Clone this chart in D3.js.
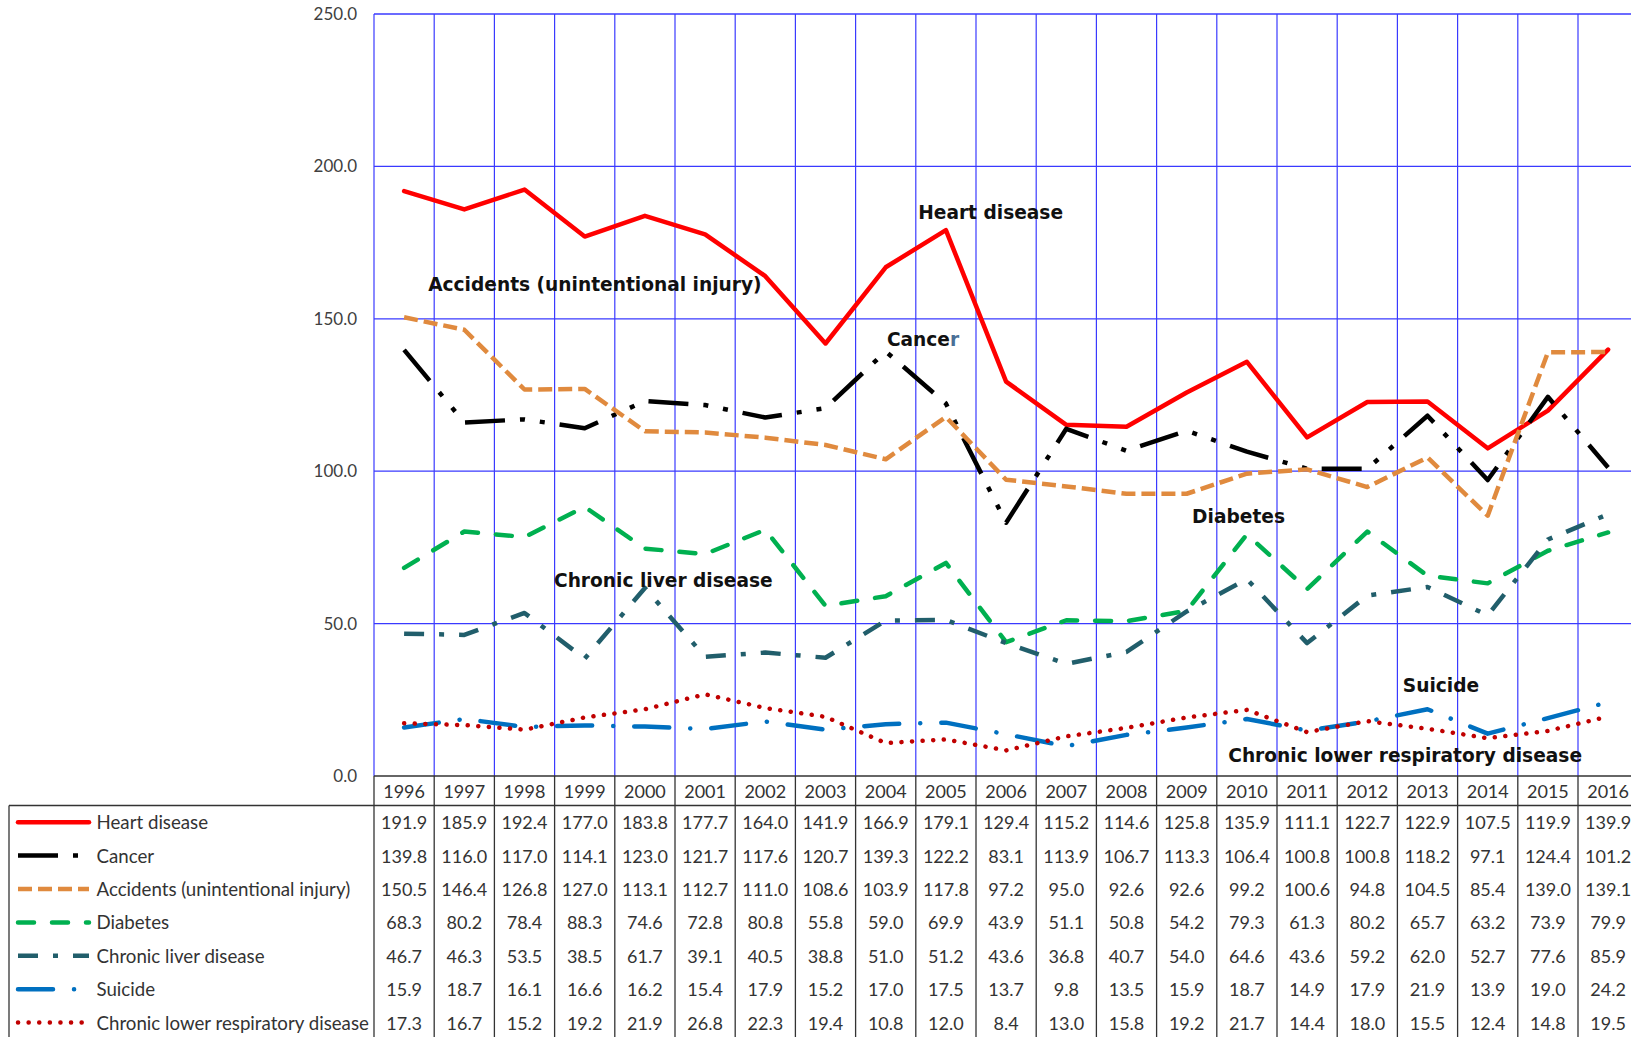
<!DOCTYPE html>
<html>
<head>
<meta charset="utf-8">
<script src="https://cdn.jsdelivr.net/npm/d3@7"></script>
<style>
body { margin: 0; background: #ffffff; }
svg { display: block; }
</style>
</head>
<body>
<div class="svg-container"></div>
<script>
// categories
let years = ["1996", "1997", "1998", "1999", "2000", "2001", "2002", "2003", "2004", "2005", "2006",
             "2007", "2008", "2009", "2010", "2011", "2012", "2013", "2014", "2015", "2016"];

// series values
let heartDisease = [191.9, 185.9, 192.4, 177.0, 183.8, 177.7, 164.0, 141.9, 166.9, 179.1, 129.4, 115.2, 114.6, 125.8, 135.9, 111.1, 122.7, 122.9, 107.5, 119.9, 139.9];
let cancer       = [139.8, 116.0, 117.0, 114.1, 123.0, 121.7, 117.6, 120.7, 139.3, 122.2, 83.1, 113.9, 106.7, 113.3, 106.4, 100.8, 100.8, 118.2, 97.1, 124.4, 101.2];
let accidents    = [150.5, 146.4, 126.8, 127.0, 113.1, 112.7, 111.0, 108.6, 103.9, 117.8, 97.2, 95.0, 92.6, 92.6, 99.2, 100.6, 94.8, 104.5, 85.4, 139.0, 139.1];
let diabetes     = [68.3, 80.2, 78.4, 88.3, 74.6, 72.8, 80.8, 55.8, 59.0, 69.9, 43.9, 51.1, 50.8, 54.2, 79.3, 61.3, 80.2, 65.7, 63.2, 73.9, 79.9];
let liver        = [46.7, 46.3, 53.5, 38.5, 61.7, 39.1, 40.5, 38.8, 51.0, 51.2, 43.6, 36.8, 40.7, 54.0, 64.6, 43.6, 59.2, 62.0, 52.7, 77.6, 85.9];
let suicide      = [15.9, 18.7, 16.1, 16.6, 16.2, 15.4, 17.9, 15.2, 17.0, 17.5, 13.7, 9.8, 13.5, 15.9, 18.7, 14.9, 17.9, 21.9, 13.9, 19.0, 24.2];
let respiratory  = [17.3, 16.7, 15.2, 19.2, 21.9, 26.8, 22.3, 19.4, 10.8, 12.0, 8.4, 13.0, 15.8, 19.2, 21.7, 14.4, 18.0, 15.5, 12.4, 14.8, 19.5];

let seriesNames = ["Heart disease", "Cancer", "Accidents (unintentional injury)", "Diabetes",
                   "Chronic liver disease", "Suicide", "Chronic lower respiratory disease"];
let seriesValues = [heartDisease, cancer, accidents, diabetes, liver, suicide, respiratory];

let yTicks = [0, 50, 100, 150, 200, 250];

// line styles (Excel dash presets)
let styles = {
    "Heart disease":                     {color: "#ff0000", dash: null,                   cap: "round"},
    "Cancer":                            {color: "#000000", dash: "40,15,5,15,5,15",      cap: "butt"},
    "Accidents (unintentional injury)":  {color: "#e08a3e", dash: "14,6",                 cap: "butt"},
    "Diabetes":                          {color: "#00b050", dash: "16,18",                cap: "round"},
    "Chronic liver disease":             {color: "#215e6b", dash: "20,15,5,15",           cap: "butt"},
    "Suicide":                           {color: "#0070c0", dash: "35,21,0.1,21",         cap: "round"},
    "Chronic lower respiratory disease": {color: "#c00000", dash: "0.1,10.5",             cap: "round"}
};

// text boxes placed on the plot, in (column, value) units
let annotations = [
    {text: "Heart disease", col: 9.04, val: 185.0},
    {text: "Cancer", col: 8.52, val: 143.4},
    {text: "Accidents (unintentional injury)", col: 0.90, val: 161.1},
    {text: "Diabetes", col: 13.59, val: 85.3},
    {text: "Chronic liver disease", col: 2.99, val: 64.2},
    {text: "Suicide", col: 17.09, val: 29.6},
    {text: "Chronic lower respiratory disease", col: 14.19, val: 6.6}
];

let width = 1631;
let height = 1037;

let plotLeft = 374;
let plotTop = 14;
let plotBottom = 776;
let colWidth = 60.2;
let headerBottom = 805.5;
let rowHeight = 33.4;
let tableLeft = 9;

let gridColor = "#3a3aff";
let tableColor = "#333333";
let textColor = "#333333";
let tableFont = "Lato, 'Liberation Sans', sans-serif";

let svg = d3.select(".svg-container")
    .append("svg")
    .attr("width", width)
    .attr("height", height);

let plotRight = plotLeft + years.length * colWidth;

let x = d3.scaleBand()
    .domain(years)
    .range([plotLeft, plotRight])
    .padding(0);

let y = d3.scaleLinear()
    .domain([0, 250])
    .range([plotBottom, plotTop]);

function colCenter(i)
{
    return x(years[i]) + x.bandwidth() / 2;
}

/*************
 * GRIDLINES *
 *************/

let grid = svg.append("g").attr("class", "grid");

grid.selectAll("line.h")
    .data(yTicks.filter(t => t > 0))
    .enter()
    .append("line")
    .attr("class", "h")
    .attr("x1", plotLeft)
    .attr("x2", plotRight)
    .attr("y1", d => y(d))
    .attr("y2", d => y(d))
    .attr("stroke", gridColor)
    .attr("stroke-width", d => d === 250 ? 1.6 : 1.2);

let boundaries = years.map(yr => x(yr)).concat([plotRight]);

grid.selectAll("line.v")
    .data(boundaries)
    .enter()
    .append("line")
    .attr("class", "v")
    .attr("x1", d => d)
    .attr("x2", d => d)
    .attr("y1", plotTop)
    .attr("y2", plotBottom)
    .attr("stroke", gridColor)
    .attr("stroke-width", 1.2);

// value axis labels
let yAxis = d3.axisLeft(y)
    .tickValues(yTicks)
    .tickFormat(d3.format(".1f"))
    .tickSize(0)
    .tickPadding(17);

svg.append("g")
    .attr("transform", "translate(" + plotLeft + ",0)")
    .call(yAxis)
    .call(g => g.select(".domain").remove())
    .selectAll("text")
    .attr("fill", "#404040")
    .style("font-family", tableFont)
    .style("font-size", "17px");

/**************
 * DATA TABLE *
 **************/

let table = svg.append("g").attr("class", "table");

table.append("line")
    .attr("x1", plotLeft).attr("x2", plotRight)
    .attr("y1", plotBottom).attr("y2", plotBottom);

table.append("line")
    .attr("x1", tableLeft).attr("x2", plotRight)
    .attr("y1", headerBottom).attr("y2", headerBottom);

table.append("line")
    .attr("x1", tableLeft).attr("x2", tableLeft)
    .attr("y1", headerBottom).attr("y2", height + 5);

table.selectAll("line.col")
    .data(boundaries)
    .enter()
    .append("line")
    .attr("class", "col")
    .attr("x1", d => d).attr("x2", d => d)
    .attr("y1", plotBottom).attr("y2", height + 5);

table.selectAll("line")
    .attr("stroke", tableColor)
    .attr("stroke-width", 1.3);

// header with years
table.selectAll("text.year")
    .data(years)
    .enter()
    .append("text")
    .attr("class", "year")
    .attr("x", (d, i) => colCenter(i))
    .attr("y", (plotBottom + headerBottom) / 2)
    .attr("text-anchor", "middle")
    .attr("dominant-baseline", "central")
    .text(d => d);

function rowCenter(r)
{
    return headerBottom + (r + 0.5) * rowHeight;
}

seriesValues.forEach(function(values, r) {
    table.selectAll("text.val" + r)
        .data(values)
        .enter()
        .append("text")
        .attr("class", "val" + r)
        .attr("x", (d, i) => colCenter(i))
        .attr("y", rowCenter(r))
        .attr("text-anchor", "middle")
        .attr("dominant-baseline", "central")
        .text(d => d3.format(".1f")(d));
});

// legend keys inside the table
let legend = table.selectAll("g.key")
    .data(seriesNames)
    .enter()
    .append("g")
    .attr("class", "key");

legend.append("line")
    .attr("x1", 18)
    .attr("x2", 89)
    .attr("y1", (d, r) => rowCenter(r))
    .attr("y2", (d, r) => rowCenter(r))
    .attr("stroke", d => styles[d].color)
    .attr("stroke-width", 4.5)
    .attr("stroke-dasharray", d => styles[d].dash)
    .attr("stroke-linecap", d => styles[d].cap);

legend.append("text")
    .attr("class", "name")
    .attr("x", 96.5)
    .attr("y", (d, r) => rowCenter(r))
    .attr("dominant-baseline", "central")
    .text(d => d);

table.selectAll("text")
    .attr("fill", textColor)
    .style("font-family", tableFont)
    .style("font-size", "18px");

table.selectAll("text.name")
    .style("font-size", "18.7px");

/**********
 * SERIES *
 **********/

let line = d3.line()
    .x((d, i) => colCenter(i))
    .y(d => y(d));

svg.append("g")
    .attr("class", "series")
    .selectAll("path")
    .data(seriesNames)
    .enter()
    .append("path")
    .attr("d", (d, r) => line(seriesValues[r]))
    .attr("fill", "none")
    .attr("stroke", d => styles[d].color)
    .attr("stroke-width", 4.5)
    .attr("stroke-linejoin", "round")
    .attr("stroke-dasharray", d => styles[d].dash)
    .attr("stroke-linecap", d => styles[d].cap);

/***************
 * ANNOTATIONS *
 ***************/

let labelText = svg.append("g")
    .attr("class", "annotations")
    .selectAll("text")
    .data(annotations)
    .enter()
    .append("text")
    .attr("x", d => plotLeft + d.col * x.bandwidth())
    .attr("y", d => y(d.val))
    .attr("dominant-baseline", "central")
    .attr("fill", "#111111")
    .style("font-family", "'DejaVu Sans', Verdana, sans-serif")
    .style("font-weight", "bold")
    .style("font-size", "18.6px");

labelText.each(function(d) {
    let t = d3.select(this);
    if (d.text === "Cancer")
    {
        // the last letter of this box is a different colour in the original
        t.append("tspan").text("Cance");
        t.append("tspan").attr("fill", "#4a6f96").text("r");
    }
    else
    {
        t.text(d.text);
    }
});
</script>
</body>
</html>
